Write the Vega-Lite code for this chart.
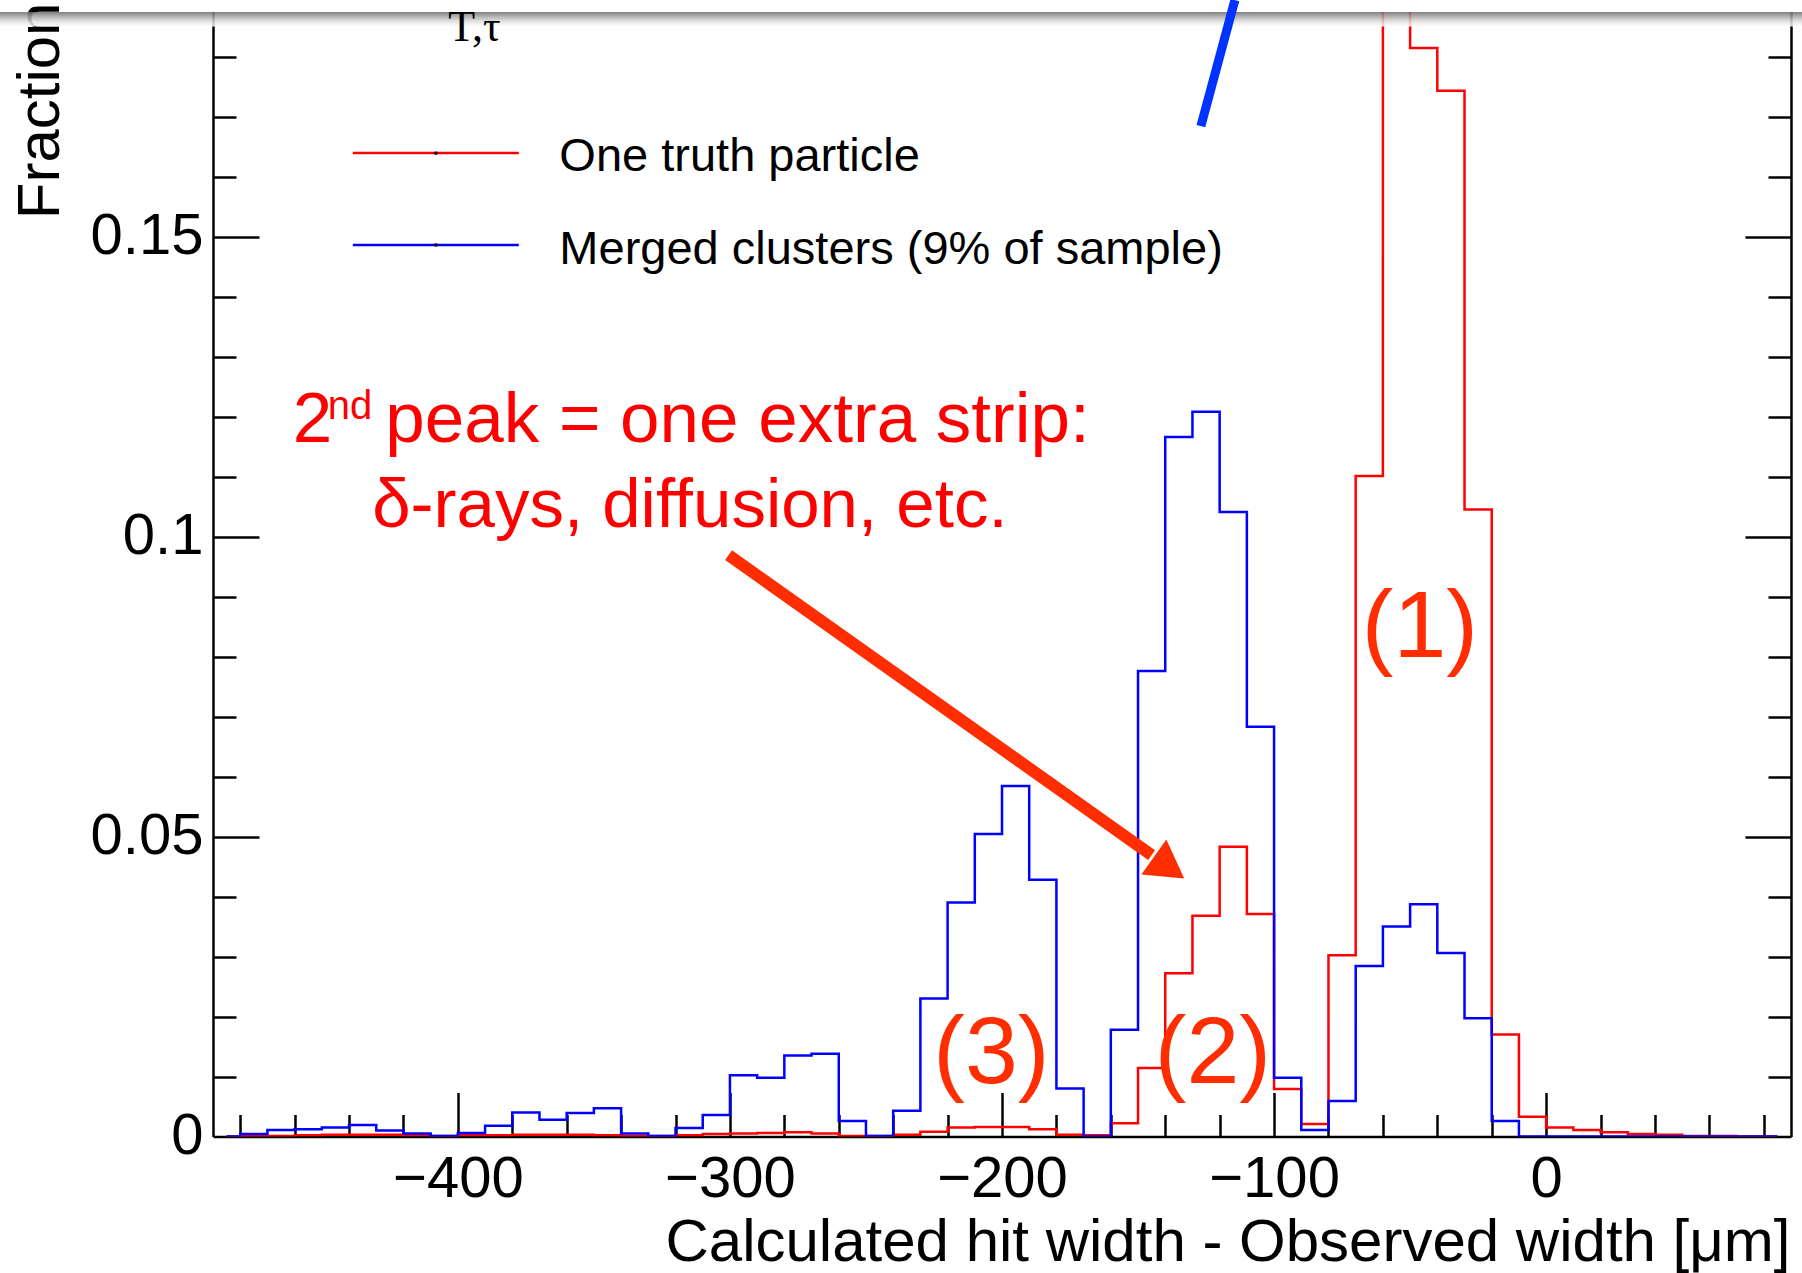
{
  "$schema": "https://vega.github.io/schema/vega-lite/v6.json",
  "width": 1578,
  "height": 1124.5,
  "autosize": {"type": "none"},
  "padding": {"left": 213, "top": 12, "right": 11, "bottom": 136.5},
  "background": "white",
  "config": {
    "view": {"stroke": null},
    "axis": {"grid": false, "tickColor": "black", "domainColor": "black", "labelColor": "black", "titleColor": "black", "labelFont": "Liberation Sans", "titleFont": "Liberation Sans", "tickWidth": 2.5, "domainWidth": 2.5},
    "text": {"font": "Liberation Sans"}
  },
  "datasets": {
    "hist": [
      {"w": -485, "red": 0, "blue": 0},
      {"w": -475, "red": 0.0001, "blue": 0.0004},
      {"w": -465, "red": 0.0001, "blue": 0.0011},
      {"w": -455, "red": 0.0002, "blue": 0.0012},
      {"w": -445, "red": 0.0003, "blue": 0.0015},
      {"w": -435, "red": 0.0003, "blue": 0.0019},
      {"w": -425, "red": 0.0003, "blue": 0.0010},
      {"w": -415, "red": 0.0002, "blue": 0.0005},
      {"w": -405, "red": 0.0001, "blue": 0.0001},
      {"w": -395, "red": 0.0002, "blue": 0.0006},
      {"w": -385, "red": 0.0002, "blue": 0.0018},
      {"w": -375, "red": 0.0003, "blue": 0.0040},
      {"w": -365, "red": 0.0003, "blue": 0.0028},
      {"w": -355, "red": 0.0003, "blue": 0.0039},
      {"w": -345, "red": 0.0002, "blue": 0.0047},
      {"w": -335, "red": 0.0001, "blue": 0.0005},
      {"w": -325, "red": 0.0001, "blue": 0.0001},
      {"w": -315, "red": 0.0002, "blue": 0.0014},
      {"w": -305, "red": 0.0004, "blue": 0.0036},
      {"w": -295, "red": 0.0005, "blue": 0.0102},
      {"w": -285, "red": 0.0006, "blue": 0.0098},
      {"w": -275, "red": 0.0007, "blue": 0.0135},
      {"w": -265, "red": 0.0005, "blue": 0.0138},
      {"w": -255, "red": 0.0001, "blue": 0.0026},
      {"w": -245, "red": 0.0001, "blue": 0.0001},
      {"w": -235, "red": 0.0003, "blue": 0.0043},
      {"w": -225, "red": 0.0008, "blue": 0.0230},
      {"w": -215, "red": 0.0015, "blue": 0.0390},
      {"w": -205, "red": 0.0016, "blue": 0.0504},
      {"w": -195, "red": 0.0016, "blue": 0.0584},
      {"w": -185, "red": 0.0012, "blue": 0.0428},
      {"w": -175, "red": 0.0003, "blue": 0.0080},
      {"w": -165, "red": 0.0002, "blue": 0},
      {"w": -155, "red": 0.0022, "blue": 0.0178},
      {"w": -145, "red": 0.0114, "blue": 0.0776},
      {"w": -135, "red": 0.0272, "blue": 0.1166},
      {"w": -125, "red": 0.0368, "blue": 0.1208},
      {"w": -115, "red": 0.0483, "blue": 0.1041},
      {"w": -105, "red": 0.0371, "blue": 0.0683},
      {"w": -95, "red": 0.0079, "blue": 0.0098},
      {"w": -85, "red": 0.0021, "blue": 0.0011},
      {"w": -75, "red": 0.0302, "blue": 0.0059},
      {"w": -65, "red": 0.1101, "blue": 0.0284},
      {"w": -55, "red": 0.2100, "blue": 0.0350},
      {"w": -45, "red": 0.1814, "blue": 0.0387},
      {"w": -35, "red": 0.1743, "blue": 0.0306},
      {"w": -25, "red": 0.1045, "blue": 0.0197},
      {"w": -15, "red": 0.0170, "blue": 0.0026},
      {"w": -5, "red": 0.0033, "blue": 0},
      {"w": 5, "red": 0.0015, "blue": 0},
      {"w": 15, "red": 0.0011, "blue": 0},
      {"w": 25, "red": 0.0007, "blue": 0},
      {"w": 35, "red": 0.0004, "blue": 0},
      {"w": 45, "red": 0.0003, "blue": 0},
      {"w": 55, "red": 0.0001, "blue": 0},
      {"w": 65, "red": 0.0001, "blue": 0},
      {"w": 75, "red": 0, "blue": 0},
      {"w": 85, "red": 0, "blue": 0}
    ],
    "legendLines": [
      {"series": "One truth particle", "w": -438.6, "w2": -377.6, "wm": -408.1, "f": 0.1639},
      {"series": "Merged clusters (9% of sample)", "w": -438.6, "w2": -377.6, "wm": -408.1, "f": 0.1486}
    ],
    "legendText": [
      {"t": "One truth particle", "w": -362.7, "f": 0.1609},
      {"t": "Merged clusters (9% of sample)", "w": -362.7, "f": 0.1455}
    ],
    "line1": [
      {"t": "2", "w": -460.7, "f": 0.1158},
      {"t": "peak = one extra strip:", "w": -426.7, "f": 0.1158}
    ],
    "line2": [
      {"t": "δ-rays, diffusion, etc.", "w": -431.5, "f": 0.1016}
    ],
    "sup": [
      {"t": "nd", "w": -447.8, "f": 0.1196}
    ],
    "peaks": [
      {"t": "(1)", "w": -46.4, "f": 0.0799},
      {"t": "(2)", "w": -122.5, "f": 0.009},
      {"t": "(3)", "w": -203.9, "f": 0.009}
    ],
    "arrow": [
      {"w": -300.5, "f": 0.0969, "w2": -145.0, "f2": 0.0469}
    ],
    "arrowHead": [
      {"w": -138.6, "f": 0.0448}
    ],
    "slash": [
      {"w": -126.9, "f": 0.1684, "w2": -114.4, "f2": 0.1894}
    ],
    "corner": [
      {"t": "T,τ", "w": -403.5, "f": 0.1826}
    ],
    "shadow": [
      {"w": -568.4, "w2": 94.1, "f": 0.18742, "f2": 0.1850}
    ]
  },
  "resolve": {"axis": {"x": "independent", "y": "independent"}},
  "layer": [
    {
      "data": {"name": "hist"},
      "mark": {"type": "line", "interpolate": "step", "color": "#FF0000", "strokeWidth": 2.5, "clip": true},
      "encoding": {
        "x": {"field": "w", "type": "quantitative", "scale": {"domain": [-490, 90], "nice": false, "zero": false},
          "axis": {"orient": "bottom", "values": [-400, -300, -200, -100, 0], "ticks": false, "domain": true, "labelFontSize": 58, "labelPadding": 14, "labelFlush": false, "labelOverlap": false,
            "labelExpr": "datum.value < 0 ? '−' + (-datum.value) : '' + datum.value",
            "title": "Calculated hit width - Observed width [μm]", "titleFontSize": 60, "titleFontWeight": "normal", "titleAnchor": "end", "titleAlign": "right", "titleBaseline": "alphabetic", "titleX": 1577, "titleY": 124}},
        "y": {"field": "red", "type": "quantitative", "scale": {"domain": [0, 0.18742], "nice": false, "zero": false},
          "axis": {"orient": "left", "values": [0, 0.05, 0.1, 0.15], "ticks": false, "domain": true, "labelFontSize": 58, "labelPadding": 10, "labelFlush": false, "labelOverlap": false,
            "labelExpr": "'' + datum.value",
            "title": "Fraction", "titleFontSize": 60, "titleFontWeight": "normal", "titleAngle": 270, "titleAnchor": "end", "titleAlign": "right", "titleBaseline": "alphabetic", "titleX": -155, "titleY": -10}}
      }
    },
    {
      "data": {"name": "hist"},
      "mark": {"type": "line", "interpolate": "step", "color": "#0000FF", "strokeWidth": 2.5, "clip": true},
      "encoding": {
        "x": {"field": "w", "type": "quantitative", "scale": {"domain": [-490, 90], "nice": false, "zero": false},
          "axis": {"orient": "bottom", "values": [-400, -300, -200, -100, 0], "tickSize": -44, "labels": false, "domain": false, "title": null}},
        "y": {"field": "blue", "type": "quantitative", "scale": {"domain": [0, 0.18742], "nice": false, "zero": false},
          "axis": {"orient": "left", "values": [0.05, 0.1, 0.15], "tickSize": -46, "labels": false, "domain": false, "title": null}}
      }
    },
    {
      "data": {"name": "legendLines"},
      "mark": {"type": "rule", "strokeWidth": 2.5},
      "encoding": {
        "x": {"field": "w", "type": "quantitative", "scale": {"domain": [-490, 90], "nice": false, "zero": false},
          "axis": {"orient": "bottom", "values": [-480, -460, -440, -420, -380, -360, -340, -320, -280, -260, -240, -220, -180, -160, -140, -120, -80, -60, -40, -20, 20, 40, 60, 80], "tickSize": -22, "labels": false, "domain": false, "title": null}},
        "x2": {"field": "w2"},
        "y": {"field": "f", "type": "quantitative", "scale": {"domain": [0, 0.18742], "nice": false, "zero": false},
          "axis": {"orient": "left", "values": [0.01, 0.02, 0.03, 0.04, 0.06, 0.07, 0.08, 0.09, 0.11, 0.12, 0.13, 0.14, 0.16, 0.17, 0.18], "tickSize": -23, "labels": false, "domain": false, "title": null}},
        "color": {"field": "series", "type": "nominal", "scale": {"domain": ["One truth particle", "Merged clusters (9% of sample)"], "range": ["#FF0000", "#0000FF"]}, "legend": null}
      }
    },
    {
      "data": {"name": "legendText"},
      "mark": {"type": "text", "align": "left", "baseline": "alphabetic", "fontSize": 47, "color": "black"},
      "encoding": {
        "x": {"field": "w", "type": "quantitative", "scale": {"domain": [-490, 90], "nice": false, "zero": false}, "axis": null},
        "y": {"field": "f", "type": "quantitative", "scale": {"domain": [0, 0.18742], "nice": false, "zero": false},
          "axis": {"orient": "right", "values": [0.05, 0.1, 0.15], "tickSize": -46, "labels": false, "domain": true, "title": null}},
        "text": {"field": "t"}
      }
    },
    {
      "data": {"name": "line1"},
      "mark": {"type": "text", "align": "left", "baseline": "alphabetic", "fontSize": 71, "color": "#FF0000"},
      "encoding": {
        "x": {"field": "w", "type": "quantitative", "scale": {"domain": [-490, 90], "nice": false, "zero": false}, "axis": null},
        "y": {"field": "f", "type": "quantitative", "scale": {"domain": [0, 0.18742], "nice": false, "zero": false},
          "axis": {"orient": "right", "values": [0.01, 0.02, 0.03, 0.04, 0.06, 0.07, 0.08, 0.09, 0.11, 0.12, 0.13, 0.14, 0.16, 0.17, 0.18], "tickSize": -23, "labels": false, "domain": false, "title": null}},
        "text": {"field": "t"}
      }
    },
    {
      "data": {"name": "line2"},
      "mark": {"type": "text", "align": "left", "baseline": "alphabetic", "fontSize": 69, "color": "#FF0000"},
      "encoding": {
        "x": {"field": "w", "type": "quantitative", "scale": {"domain": [-490, 90], "nice": false, "zero": false}, "axis": null},
        "y": {"field": "f", "type": "quantitative", "scale": {"domain": [0, 0.18742], "nice": false, "zero": false}, "axis": null},
        "text": {"field": "t"}
      }
    },
    {
      "data": {"name": "sup"},
      "mark": {"type": "text", "align": "left", "baseline": "alphabetic", "fontSize": 40, "color": "#FF0000"},
      "encoding": {
        "x": {"field": "w", "type": "quantitative", "scale": {"domain": [-490, 90], "nice": false, "zero": false}, "axis": null},
        "y": {"field": "f", "type": "quantitative", "scale": {"domain": [0, 0.18742], "nice": false, "zero": false}, "axis": null},
        "text": {"field": "t"}
      }
    },
    {
      "data": {"name": "peaks"},
      "mark": {"type": "text", "align": "center", "baseline": "alphabetic", "fontSize": 95, "color": "#FF2D00"},
      "encoding": {
        "x": {"field": "w", "type": "quantitative", "scale": {"domain": [-490, 90], "nice": false, "zero": false}, "axis": null},
        "y": {"field": "f", "type": "quantitative", "scale": {"domain": [0, 0.18742], "nice": false, "zero": false}, "axis": null},
        "text": {"field": "t"}
      }
    },
    {
      "data": {"name": "arrow"},
      "mark": {"type": "rule", "color": "#FF2D00", "strokeWidth": 12, "strokeCap": "butt"},
      "encoding": {
        "x": {"field": "w", "type": "quantitative", "scale": {"domain": [-490, 90], "nice": false, "zero": false}, "axis": null},
        "y": {"field": "f", "type": "quantitative", "scale": {"domain": [0, 0.18742], "nice": false, "zero": false}, "axis": null},
        "x2": {"field": "w2"},
        "y2": {"field": "f2"}
      }
    },
    {
      "data": {"name": "arrowHead"},
      "mark": {"type": "point", "shape": "triangle-right", "filled": true, "size": 1849, "angle": 35.4, "color": "#FF2D00", "opacity": 1},
      "encoding": {
        "x": {"field": "w", "type": "quantitative", "scale": {"domain": [-490, 90], "nice": false, "zero": false}, "axis": null},
        "y": {"field": "f", "type": "quantitative", "scale": {"domain": [0, 0.18742], "nice": false, "zero": false}, "axis": null}
      }
    },
    {
      "data": {"name": "shadow"},
      "mark": {"type": "rect", "clip": false, "opacity": 0.85, "color": {"gradient": "linear", "x1": 0, "y1": 0, "x2": 0, "y2": 1, "stops": [{"offset": 0, "color": "#6a6a6a"}, {"offset": 0.3, "color": "#a4a4a4"}, {"offset": 0.65, "color": "#dedede"}, {"offset": 1, "color": "#ffffff"}]}},
      "encoding": {
        "x": {"field": "w", "type": "quantitative", "scale": {"domain": [-490, 90], "nice": false, "zero": false}, "axis": null},
        "x2": {"field": "w2"},
        "y": {"field": "f", "type": "quantitative", "scale": {"domain": [0, 0.18742], "nice": false, "zero": false}, "axis": null},
        "y2": {"field": "f2"}
      }
    },
    {
      "data": {"name": "slash"},
      "mark": {"type": "rule", "color": "#0033FF", "strokeWidth": 9, "strokeCap": "butt", "clip": false},
      "encoding": {
        "x": {"field": "w", "type": "quantitative", "scale": {"domain": [-490, 90], "nice": false, "zero": false}, "axis": null},
        "y": {"field": "f", "type": "quantitative", "scale": {"domain": [0, 0.18742], "nice": false, "zero": false}, "axis": null},
        "x2": {"field": "w2"},
        "y2": {"field": "f2"}
      }
    },
    {
      "data": {"name": "corner"},
      "mark": {"type": "text", "align": "left", "baseline": "alphabetic", "fontSize": 44, "font": "Liberation Serif", "color": "black"},
      "encoding": {
        "x": {"field": "w", "type": "quantitative", "scale": {"domain": [-490, 90], "nice": false, "zero": false}, "axis": null},
        "y": {"field": "f", "type": "quantitative", "scale": {"domain": [0, 0.18742], "nice": false, "zero": false}, "axis": null},
        "text": {"field": "t"}
      }
    },
    {
      "data": {"name": "legendLines"},
      "mark": {"type": "square", "size": 9, "color": "black", "opacity": 1},
      "encoding": {
        "x": {"field": "wm", "type": "quantitative", "scale": {"domain": [-490, 90], "nice": false, "zero": false}, "axis": null},
        "y": {"field": "f", "type": "quantitative", "scale": {"domain": [0, 0.18742], "nice": false, "zero": false}, "axis": null}
      }
    }
  ]
}
